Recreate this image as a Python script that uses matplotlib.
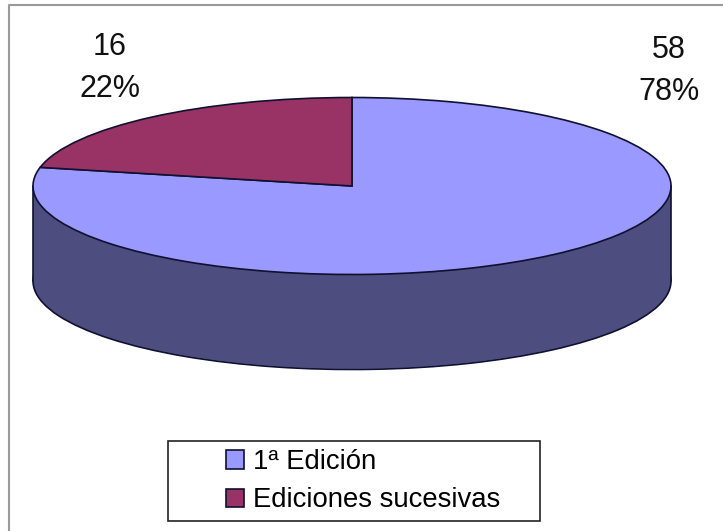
import matplotlib
matplotlib.use('Agg')
import matplotlib.pyplot as plt
from matplotlib.lines import Line2D
from matplotlib.patches import Rectangle

plt.rcParams['font.family'] = ['Liberation Sans', 'DejaVu Sans']

categories = ['1ª Edición', 'Ediciones sucesivas']
values = [58, 16]
percents = ['78%', '22%']
colors = ['#9999FF', '#993366']
side_color = '#4D4D80'
edge = '#101030'

W, H = 723, 531
cx, cy, rx, ry = 352, 186, 319, 88.5
depth = 95 / ry

fig = plt.figure(figsize=(W / 100, H / 100), dpi=100, facecolor='white')
ax = fig.add_axes([0, 0, 1, 1])

# side of the pie: a darker pie lower down, joined up with a band
ax.pie(values, colors=[side_color, side_color], center=(0, -depth),
       startangle=90, counterclock=False, wedgeprops=dict(linewidth=1.2, edgecolor=edge))
# same pie again without edges, hides the slice lines of the one below
ax.pie(values, colors=[side_color, side_color], center=(0, -depth), radius=0.99,
       startangle=90, counterclock=False, wedgeprops=dict(linewidth=0, zorder=2))
ax.add_patch(Rectangle((-1, -depth), 2, depth, facecolor=side_color, edgecolor='none', zorder=2))
ax.plot([-1, -1], [-depth, 0], color=edge, lw=1.2, zorder=3)
ax.plot([1, 1], [-depth, 0], color=edge, lw=1.2, zorder=3)

wedges, _ = ax.pie(values, colors=colors, startangle=90, counterclock=False,
                   wedgeprops=dict(linewidth=1.2, edgecolor=edge, zorder=4))

# pie forces equal aspect, undo it so that the circle becomes the ellipse
ax.set_aspect('auto')
ax.set_xlim(-cx / rx, (W - cx) / rx)
ax.set_ylim((cy - H) / ry, cy / ry)
ax.axis('off')

# data labels
fig.text(669 / W, 1 - 71 / H, f'{values[0]}\n{percents[0]}', ha='center', va='center',
         fontsize=22, color='#111111', linespacing=1.5)
fig.text(110 / W, 1 - 68 / H, f'{values[1]}\n{percents[1]}', ha='center', va='center',
         fontsize=22, color='#111111', linespacing=1.5)

# outer frame is cut off, only top and left are in the picture
fig.add_artist(Line2D([9 / W, 9 / W, 1], [0, 1 - 5 / H, 1 - 5 / H], transform=fig.transFigure,
                      color='#999999', lw=1.5))
fig.add_artist(Rectangle((168 / W, 1 - 521 / H), 372 / W, 80 / H, transform=fig.transFigure,
                         facecolor='white', edgecolor='#222222', lw=1.2, zorder=5))
leg = fig.legend(wedges, categories, loc='upper left', bbox_to_anchor=(218 / W, 1 - 441 / H),
                 frameon=False, fontsize=19.8, handlelength=0.65, handleheight=0.65,
                 handletextpad=0.33, labelspacing=0.44, borderpad=0.3, borderaxespad=0)
leg.set_zorder(6)

fig.savefig('out.png', dpi=100)
